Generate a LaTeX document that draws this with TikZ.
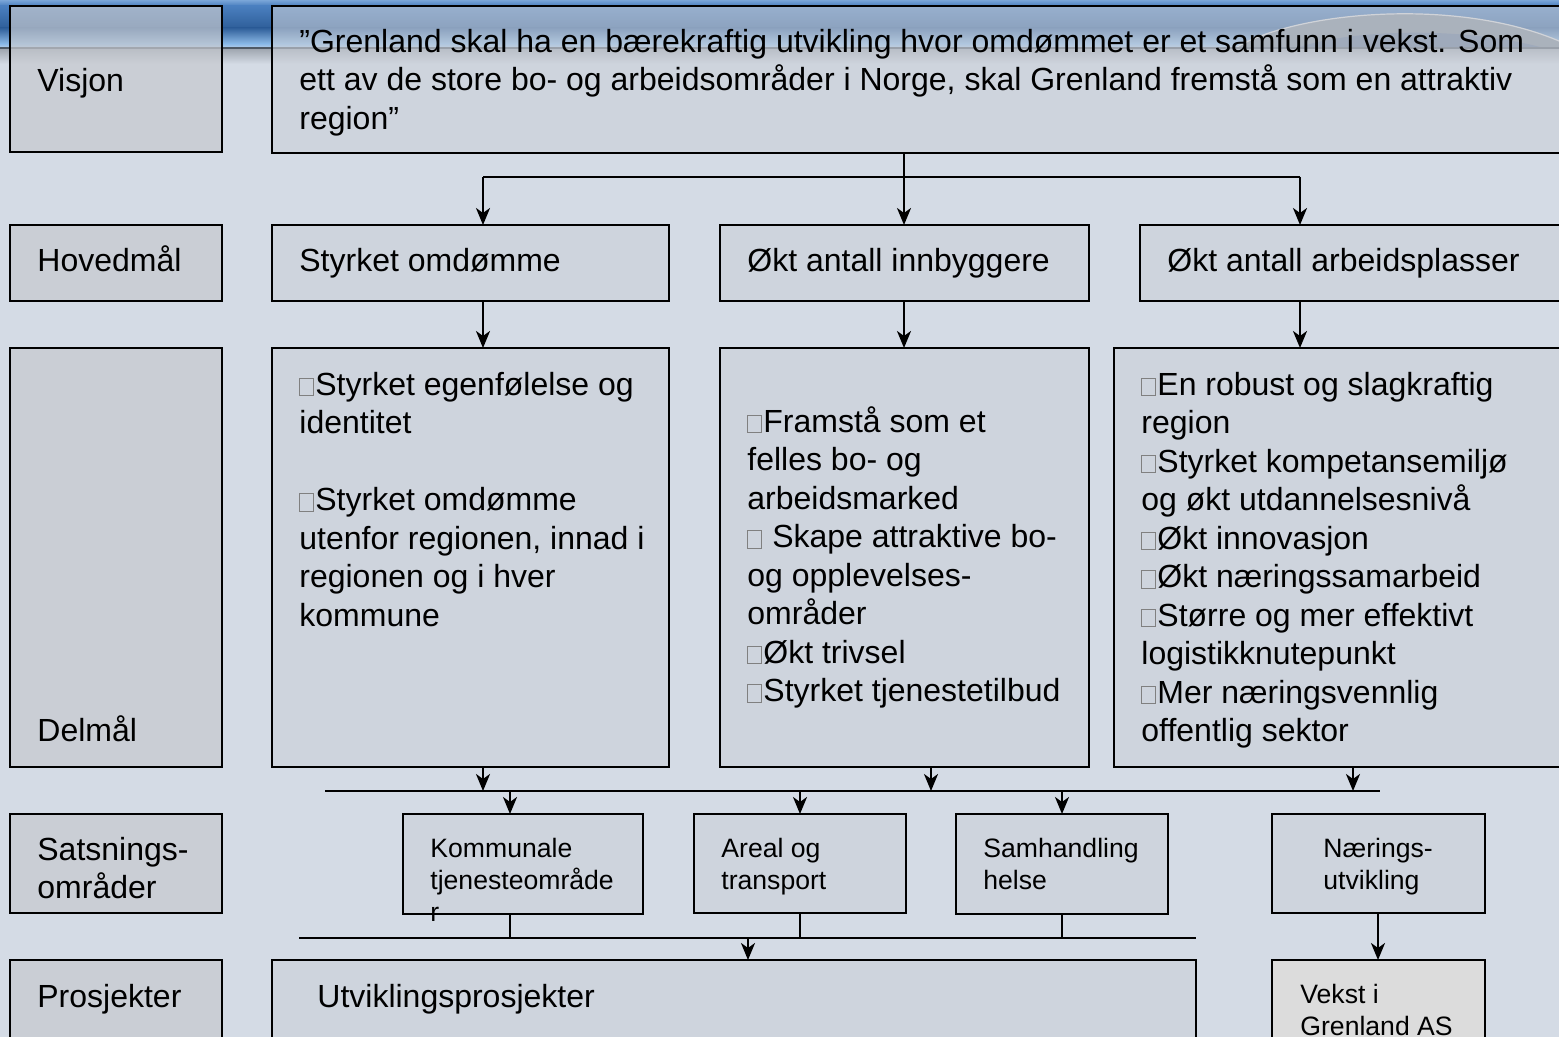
\documentclass[tikz,border=0pt]{standalone}
\usepackage{fontspec}
\setmainfont{Liberation Sans}
\usetikzlibrary{arrows.meta}
\definecolor{bgc}{HTML}{D4DBE5}
\definecolor{lblfill}{HTML}{C6C9CF}
\definecolor{boxfill}{HTML}{CBD0D8}
\definecolor{vekstfill}{HTML}{DCDCDC}
\definecolor{bA}{HTML}{7AA6D8}
\definecolor{bB}{HTML}{4A7FBF}
\definecolor{bC}{HTML}{2F5F9A}
\definecolor{bD}{HTML}{8EBBE8}
\definecolor{bE}{HTML}{B5CFEA}
\definecolor{lineC}{HTML}{4F5A66}
\definecolor{shadeT}{HTML}{9DA4AD}
\definecolor{archc}{HTML}{7A8594}
\definecolor{archd}{HTML}{5F7290}
\definecolor{glyphc}{HTML}{808080}
\newcommand\fa{\fontsize{16pt}{19.25pt}\selectfont}
\newcommand\fb{\fontsize{13.3pt}{16pt}\selectfont}
\newcommand\gbox{{\color{glyphc}\fboxsep=0pt\fboxrule=0.5pt\fbox{\rule{0pt}{8.2pt}\hspace{6.2pt}}}\kern0.8pt}
\newcommand\mkbox[6]{\node[#6, minimum width={(#4-#2)*0.5pt}, minimum height={(#5-#3)*0.5pt}] (#1) at ({(#2+#4)/2},{(#3+#5)/2}) {};}
\tikzset{
  basebox/.style={rectangle, draw=black, line width=1.25pt, inner sep=0pt, outer sep=0pt},
  lbl/.style={basebox, fill=lblfill, fill opacity=0.7, draw opacity=1},
  cbox/.style={basebox, fill=boxfill, fill opacity=0.6, draw opacity=1},
  vbox/.style={basebox, fill=vekstfill},
  txt/.style={anchor=north west, inner sep=0pt, align=left, font=\fa, text=black},
  stxt/.style={anchor=north west, inner sep=0pt, align=left, font=\fb, text=black},
  ln/.style={draw=black, line width=1.1pt},
  arr/.style={draw=black, line width=1.1pt, -{Stealth[length=8.5pt,width=7pt,inset=2.5pt]}}
}
\begin{document}
\begin{tikzpicture}[x=0.5pt,y=-0.5pt]
\path[use as bounding box] (0,0) rectangle (1559,1037);
\clip (0,0) rectangle (1559,1037);
% background
\fill[bgc] (0,0) rectangle (1559,1037);
% banner
\shade[top color=bA, bottom color=bB] (0,0) rectangle (1559,6);
\shade[top color=bB, bottom color=bC] (0,6) rectangle (1559,28);
\shade[top color=bC, bottom color=bD] (0,28) rectangle (1559,44);
\shade[top color=bD, bottom color=bE] (0,44) rectangle (1559,48);
\shade[top color=shadeT, bottom color=bgc] (0,48) rectangle (1559,64);
\fill[archc] (1237,47) .. controls (1300,10) and (1470,-4) .. (1572,47) -- cycle;
\fill[archd] (1300,47) .. controls (1350,30) and (1460,26) .. (1540,47) -- cycle;
\draw[white!70!gray, line width=0.6pt] (1237,47) .. controls (1300,10) and (1470,-4) .. (1572,47);
\draw[lineC, line width=1pt] (0,48) -- (1559,48);

% label boxes
\mkbox{vlab}{10}{6}{222}{152}{lbl}
\mkbox{hlab}{10}{225}{222}{301}{lbl}
\mkbox{dlab}{10}{348}{222}{767}{lbl}
\mkbox{slab}{10}{814}{222}{913}{lbl}
\mkbox{plab}{10}{960}{222}{1060}{lbl}
% content boxes
\mkbox{vis}{272}{6}{1575}{153}{cbox}
\mkbox{h1}{272}{225}{669}{301}{cbox}
\mkbox{h2}{720}{225}{1089}{301}{cbox}
\mkbox{h3}{1140}{225}{1575}{301}{cbox}
\mkbox{d1}{272}{348}{669}{767}{cbox}
\mkbox{d2}{720}{348}{1089}{767}{cbox}
\mkbox{d3}{1114}{348}{1575}{767}{cbox}
\mkbox{s1}{403}{814}{643}{914}{cbox}
\mkbox{s2}{694}{814}{906}{913}{cbox}
\mkbox{s3}{956}{814}{1168}{914}{cbox}
\mkbox{s4}{1272}{814}{1485}{913}{cbox}
\mkbox{p1}{272}{960}{1196}{1060}{cbox}
\mkbox{p2}{1272}{960}{1485}{1060}{vbox}

% label texts
\node[txt] (vlabt) at (37,64) {\strut Visjon};
\node[txt] (hlabt) at (37,244) {\strut Hovedmål};
\node[txt] (dlabt) at (37,714) {\strut Delmål};
\node[txt] (slabt) at (37,833) {\strut Satsnings-\\områder};
\node[txt] (plabt) at (37,980) {\strut Prosjekter};

% vision
\node[txt] (vist) at (299,25) {\strut ”Grenland skal ha en bærekraftig utvikling hvor omdømmet er et samfunn i vekst. Som\\ett av de store bo- og arbeidsområder i Norge, skal Grenland fremstå som en attraktiv\\region”};
% hovedmaal
\node[txt] (h1t) at (299,244) {\strut Styrket omdømme};
\node[txt] (h2t) at (747,244) {\strut Økt antall innbyggere};
\node[txt] (h3t) at (1167,244) {\strut Økt antall arbeidsplasser};
% delmaal
\node[txt] (d1t) at (299,368) {\strut\gbox Styrket egenfølelse og\\identitet\\[19.25pt]\gbox Styrket omdømme\\utenfor regionen, innad i\\regionen og i hver\\kommune};
\node[txt] (d2t) at (747,405) {\strut\gbox Framstå som et\\felles bo- og\\arbeidsmarked\\\gbox\ Skape attraktive bo-\\og opplevelses-\\områder\\\gbox Økt trivsel\\\gbox Styrket tjenestetilbud};
\node[txt] (d3t) at (1141,368) {\strut\gbox En robust og slagkraftig\\region\\\gbox Styrket kompetansemiljø\\og økt utdannelsesnivå\\\gbox Økt innovasjon\\\gbox Økt næringssamarbeid\\\gbox Større og mer effektivt\\logistikknutepunkt\\\gbox Mer næringsvennlig\\offentlig sektor};
% satsning
\node[stxt] (s1t) at (430,834.6) {\strut Kommunale\\tjenesteområde\\r};
\node[stxt] (s2t) at (721,834.6) {\strut Areal og\\transport};
\node[stxt] (s3t) at (983,834.6) {\strut Samhandling\\helse};
\node[stxt] (s4t) at (1323,834.6) {\strut Nærings-\\utvikling};
% prosjekter
\node[txt] (p1t) at (317,980) {\strut Utviklingsprosjekter};
\node[stxt] (p2t) at (1300,980.6) {\strut Vekst i\\Grenland AS};

% connectors: vision -> hovedmaal
\coordinate (va) at (483,177);
\coordinate (vb) at (904,177);
\coordinate (vc) at (1300,177);
\draw[ln] (va) -- (vc);
\draw[arr] (vis.south -| vb) -- (vb |- h2.north);
\draw[arr] (va) -- (va |- h1.north);
\draw[arr] (vc) -- (vc |- h3.north);
% hovedmaal -> delmaal
\draw[arr] (h1.south -| va) -- (va |- d1.north);
\draw[arr] (h2.south -| vb) -- (vb |- d2.north);
\draw[arr] (h3.south -| vc) -- (vc |- d3.north);
% delmaal -> line
\coordinate (bl) at (325,791);
\coordinate (br) at (1380,791);
\coordinate (da) at (483,791);
\coordinate (db) at (931,791);
\coordinate (dc) at (1353,791);
\draw[ln] (bl) -- (br);
\draw[arr] (d1.south -| da) -- (da);
\draw[arr] (d2.south -| db) -- (db);
\draw[arr] (d3.south -| dc) -- (dc);
% line -> satsning
\coordinate (sa) at (510,791);
\coordinate (sb) at (800,791);
\coordinate (sc) at (1062,791);
\draw[arr] (sa) -- (sa |- s1.north);
\draw[arr] (sb) -- (sb |- s2.north);
\draw[arr] (sc) -- (sc |- s3.north);
% satsning -> prosjekter
\coordinate (pl) at (299,938);
\coordinate (pr) at (1196,938);
\coordinate (pm) at (748,938);
\draw[ln] (pl) -- (pr);
\draw[ln] (s1.south -| sa) -- (sa |- pl);
\draw[ln] (s2.south -| sb) -- (sb |- pl);
\draw[ln] (s3.south -| sc) -- (sc |- pl);
\draw[arr] (pm) -- (pm |- p1.north);
\coordinate (sn) at (1378,913);
\draw[arr] (s4.south -| sn) -- (sn |- p2.north);
\end{tikzpicture}
\end{document}
